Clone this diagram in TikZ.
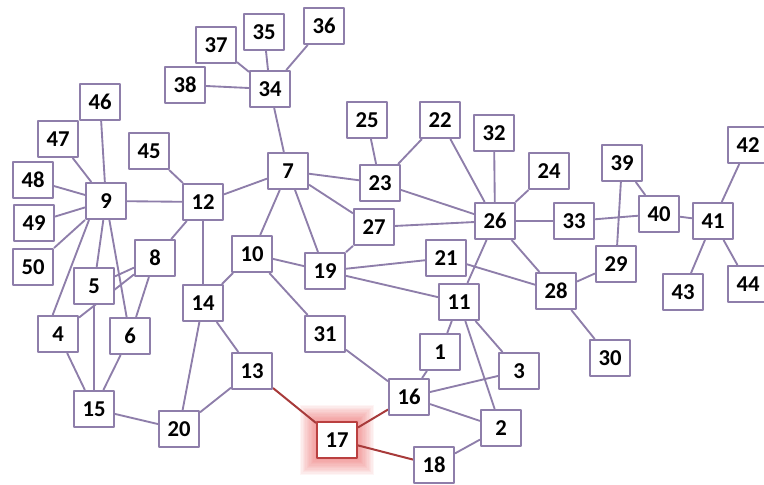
\documentclass[tikz,border=0pt]{standalone}
\usepackage{fontspec}
\setmainfont{Carlito}
\usetikzlibrary{backgrounds}
\definecolor{boxline}{RGB}{142,126,170}
\definecolor{hotline}{RGB}{168,58,58}
\definecolor{hotglow}{RGB}{232,80,80}
\tikzset{
  every picture/.style={line join=round, line cap=round},
  vbox/.style={draw=boxline, line width=1.5pt, fill=white, minimum width=30pt,
    minimum height=27pt, inner sep=0pt, font=\fontsize{17}{17}\selectfont\bfseries},
  link/.style={draw=boxline, line width=1.4pt},
  hot/.style={draw=hotline, line width=1.5pt},
}
\begin{document}
\begin{tikzpicture}[x=0.75pt,y=-0.75pt]
\useasboundingbox (0,0) rectangle (764,485);
% top cluster
\node[vbox] (n35) at (264,32) {35};
\node[vbox] (n36) at (324,26) {36};
\node[vbox] (n37) at (216,45) {37};
\node[vbox] (n38) at (185,85) {38};
\node[vbox] (n34) at (270,89) {34};
% left cluster
\node[vbox] (n46) at (100,102) {46};
\node[vbox] (n47) at (58,139) {47};
\node[vbox] (n45) at (149,151) {45};
\node[vbox] (n48) at (33,180) {48};
\node[vbox] (n9) at (106,201) {9};
\node[vbox] (n12) at (203,202) {12};
\node[vbox] (n49) at (34,223) {49};
\node[vbox] (n50) at (33,267) {50};
\node[vbox] (n8) at (155,258) {8};
\node[vbox] (n5) at (94,286) {5};
\node[vbox] (n4) at (58,334) {4};
\node[vbox] (n6) at (130,336) {6};
\node[vbox] (n14) at (203,303) {14};
\node[vbox] (n15) at (94,409) {15};
\node[vbox] (n20) at (179,429) {20};
\node[vbox] (n13) at (252,371) {13};
\node[vbox] (n10) at (252,254) {10};
% middle
\node[vbox] (n7) at (288,171) {7};
\node[vbox] (n25) at (367,120) {25};
\node[vbox] (n22) at (440,120) {22};
\node[vbox] (n32) at (494,133) {32};
\node[vbox] (n23) at (380,183) {23};
\node[vbox] (n27) at (374,227) {27};
\node[vbox] (n26) at (495,221) {26};
\node[vbox] (n24) at (549,171) {24};
\node[vbox] (n19) at (325,271) {19};
\node[vbox] (n21) at (446,258) {21};
\node[vbox] (n11) at (459,302) {11};
\node[vbox] (n31) at (325,334) {31};
\node[vbox] (n1) at (440,352) {1};
\node[vbox] (n3) at (519,371) {3};
\node[vbox] (n16) at (409,397) {16};
\node[vbox] (n2) at (501,428) {2};
\node[vbox] (n18) at (434,465) {18};
\node[vbox, draw=hotglow!80!black] (n17) at (337,440) {17};
% right cluster
\node[vbox] (n33) at (574,221) {33};
\node[vbox] (n28) at (556,291) {28};
\node[vbox] (n29) at (616,264) {29};
\node[vbox] (n30) at (610,358) {30};
\node[vbox] (n39) at (622,163) {39};
\node[vbox] (n40) at (659,214) {40};
\node[vbox] (n41) at (713,221) {41};
\node[vbox] (n42) at (748,145) {42};
\node[vbox] (n43) at (683,292) {43};
\node[vbox] (n44) at (748,284) {44};
\begin{scope}[on background layer]
\foreach \s in {1,...,12}
  \fill[hotglow, opacity=0.06] ([shift={(-\s pt,-\s pt)}]n17.south west) rectangle ([shift={(\s pt,\s pt)}]n17.north east);
\draw[link] (n37)--(n34) (n35)--(n34) (n36)--(n34) (n38)--(n34) (n34)--(n7)
  (n46)--(n9) (n47)--(n9) (n48)--(n9) (n49)--(n9) (n50)--(n9)
  (n9)--(n12) ([xshift=3pt]n9.south west)--([xshift=-4pt]n4.north)
  (n9)--(n5) (n9)--(n6)
  (n45)--(n12) (n12)--(n7) (n12)--(n8) (n12)--(n14)
  (n5)--(n8) (n8)--(n4) (n8)--(n6)
  (n4)--(n15) (n5)--(n15) (n6)--(n15) (n15)--(n20)
  (n14)--(n20) (n20)--(n13) (n14)--(n13) (n14)--(n10);
\draw[link] (n7)--(n23) (n7)--(n27) (n7)--(n10) (n7)--(n19)
  (n25)--(n23) (n22)--(n23) (n22)--(n26) (n32)--(n26) (n24)--(n26)
  (n23)--(n26) (n27)--(n26) (n27)--(n19) (n10)--(n19) (n10)--(n31)
  (n19)--(n21) (n19)--(n11) (n21)--(n28) (n26)--(n11) (n26)--(n28)
  (n26)--(n33) (n33)--(n40) (n39)--(n40) (n39)--(n29) (n29)--(n28)
  (n28)--(n30) (n40)--(n41) (n41)--(n42) (n41)--(n43) (n41)--(n44);
\draw[link] (n31)--(n16) (n1)--(n11) (n1)--(n16) (n11)--(n3) (n11)--(n2)
  (n16)--(n3) (n16)--(n2) (n2)--(n18);
\draw[hot] (n13)--(n17) (n17)--(n16) (n17)--(n18);
\end{scope}
\end{tikzpicture}
\end{document}
